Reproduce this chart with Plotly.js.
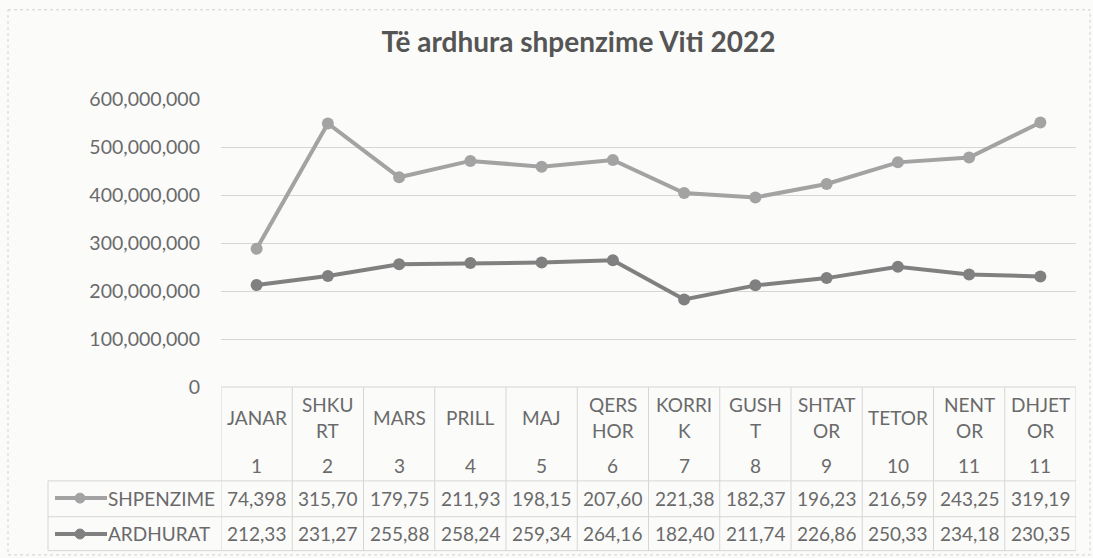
<!DOCTYPE html>
<html>
<head>
<meta charset="utf-8">
<script src="https://cdn.plot.ly/plotly-3.0.1.min.js"></script>
<style>
html,body{margin:0;padding:0;background:#fbfbfa;}
#chart{width:1093px;height:558px;}
</style>
</head>
<body>
<div id="chart"></div>
<script>
// ---- data ----
var monthNames = [["JANAR"],["SHKU","RT"],["MARS"],["PRILL"],["MAJ"],["QERS","HOR"],["KORRI","K"],["GUSH","T"],["SHTAT","OR"],["TETOR"],["NENT","OR"],["DHJET","OR"]];
var monthNumbers = ["1","2","3","4","5","6","7","8","9","10","11","11"];
var seriesNames = ["SHPENZIME","ARDHURAT"];
var shpenzime = [288e6,549e6,437e6,471e6,459e6,473e6,404e6,395e6,423e6,468e6,478e6,551e6];
var ardhurat = [212.33e6,231.27e6,255.88e6,258.24e6,259.34e6,264.16e6,182.40e6,211.74e6,226.86e6,250.33e6,234.18e6,230.35e6];
var shpenzimeLabels = ["74,398","315,70","179,75","211,93","198,15","207,60","221,38","182,37","196,23","216,59","243,25","319,19"];
var ardhuratLabels = ["212,33","231,27","255,88","258,24","259,34","264,16","182,40","211,74","226,86","250,33","234,18","230,35"];
var yTicks = [0,1e8,2e8,3e8,4e8,5e8,6e8];
var yTickText = ["0","100,000,000","200,000,000","300,000,000","400,000,000","500,000,000","600,000,000"];
var titleText = "Të ardhura shpenzime Viti 2022";

// ---- layout geometry (pixels) ----
var W = 1093, H = 558;
var L = 221, R = 1076, T = 98.5, B = 387.5;
var plotH = B - T, plotW = R - L;
function py(p){ return (B - p) / plotH; }     // pixel y -> paper y
function px(p){ return (p - L) / plotW; }     // pixel x -> paper x

var colShp = "#a3a3a3", colArd = "#808080";
var textCol = "#6a6a6a";
var font = "Lato, 'Open Sans', sans-serif";

var idx = shpenzime.map(function(_, i){ return i; });

var traces = [
  {x: idx, y: shpenzime, name: seriesNames[0], type: "scatter", mode: "lines+markers",
   line: {color: colShp, width: 4}, marker: {color: colShp, size: 12}},
  {x: idx, y: ardhurat, name: seriesNames[1], type: "scatter", mode: "lines+markers",
   line: {color: colArd, width: 4}, marker: {color: colArd, size: 12}}
];

var gridCol = "#d6d6d6";
var shapes = [], annotations = [];

// table lines
var yHeadBot = py(481.7), yRow1Bot = py(517.7), yRow2Bot = py(551.7);
var xLabelLeft = px(48);
shapes.push({type:"line", xref:"paper", yref:"paper", x0:0, x1:1, y0:0, y1:0, line:{color:gridCol, width:1}});
shapes.push({type:"line", xref:"paper", yref:"paper", x0:xLabelLeft, x1:1, y0:yHeadBot, y1:yHeadBot, line:{color:gridCol, width:1}});
shapes.push({type:"line", xref:"paper", yref:"paper", x0:xLabelLeft, x1:1, y0:yRow1Bot, y1:yRow1Bot, line:{color:gridCol, width:1}});
shapes.push({type:"line", xref:"paper", yref:"paper", x0:xLabelLeft, x1:1, y0:yRow2Bot, y1:yRow2Bot, line:{color:gridCol, width:1}});
for (var k = 0; k <= monthNumbers.length; k++) {
  shapes.push({type:"line", xref:"x", yref:"paper", x0:k-0.5, x1:k-0.5, y0:0, y1:yRow2Bot, line:{color:gridCol, width:1}});
}
shapes.push({type:"line", xref:"paper", yref:"paper", x0:xLabelLeft, x1:xLabelLeft, y0:yHeadBot, y1:yRow2Bot, line:{color:gridCol, width:1}});
// outer frame
shapes.push({type:"rect", xref:"paper", yref:"paper", x0:px(8), x1:px(1090), y0:py(9), y1:py(556),
  line:{color:"#d0d0d0", width:1, dash:"dot"}});

// legend keys in table
var legendRows = [[py(499), colShp],[py(535), colArd]];
legendRows.forEach(function(r){
  shapes.push({type:"line", xref:"paper", yref:"paper", x0:px(55), x1:px(107), y0:r[0], y1:r[0], line:{color:r[1], width:4}});
  shapes.push({type:"circle", xref:"paper", yref:"paper", x0:px(75), x1:px(85), y0:r[0]-5/plotH, y1:r[0]+5/plotH,
    fillcolor:r[1], line:{color:r[1], width:1}});
});

var tf = {family: font, size: 19, color: textCol};
monthNames.forEach(function(nm, i){
  if (nm.length === 1) {
    annotations.push({xref:"x", yref:"paper", x:i, y:py(418), text:nm[0], showarrow:false, font:tf, yanchor:"middle"});
  } else {
    annotations.push({xref:"x", yref:"paper", x:i, y:py(405), text:nm[0], showarrow:false, font:tf, yanchor:"middle"});
    annotations.push({xref:"x", yref:"paper", x:i, y:py(431), text:nm[1], showarrow:false, font:tf, yanchor:"middle"});
  }
  annotations.push({xref:"x", yref:"paper", x:i, y:py(466), text:monthNumbers[i], showarrow:false, font:tf, yanchor:"middle"});
  annotations.push({xref:"x", yref:"paper", x:i, y:py(499), text:shpenzimeLabels[i], showarrow:false, font:tf, yanchor:"middle"});
  annotations.push({xref:"x", yref:"paper", x:i, y:py(535), text:ardhuratLabels[i], showarrow:false, font:tf, yanchor:"middle"});
});
annotations.push({xref:"paper", yref:"paper", x:px(106), y:py(499), text:seriesNames[0], showarrow:false, font:tf, xanchor:"left", yanchor:"middle"});
annotations.push({xref:"paper", yref:"paper", x:px(106), y:py(535), text:seriesNames[1], showarrow:false, font:tf, xanchor:"left", yanchor:"middle"});

var layout = {
  width: W, height: H,
  margin: {l: L, r: W - R, t: T, b: H - B, pad: 0},
  paper_bgcolor: "#fbfbfa", plot_bgcolor: "rgba(0,0,0,0)",
  showlegend: false,
  title: {text: titleText, x: 578.5 / W, xanchor: "center", y: 1 - 42/H, yanchor: "middle",
          font: {family: font, size: 28, color: "#555555", weight: "bold"}},
  xaxis: {range: [-0.5, 11.5], showgrid: false, zeroline: false, showticklabels: false, showline: false, ticks: "", fixedrange: true},
  yaxis: {range: [0, 6e8], tickvals: yTicks, ticktext: yTickText, showgrid: true, gridcolor: gridCol, gridwidth: 1,
          zeroline: false, showline: false, ticks: "", ticklabelstandoff: 20,
          tickfont: {family: font, size: 19.5, color: textCol}, fixedrange: true},
  shapes: shapes,
  annotations: annotations
};

Plotly.newPlot("chart", traces, layout, {displayModeBar: false, staticPlot: true});
</script>
</body>
</html>
